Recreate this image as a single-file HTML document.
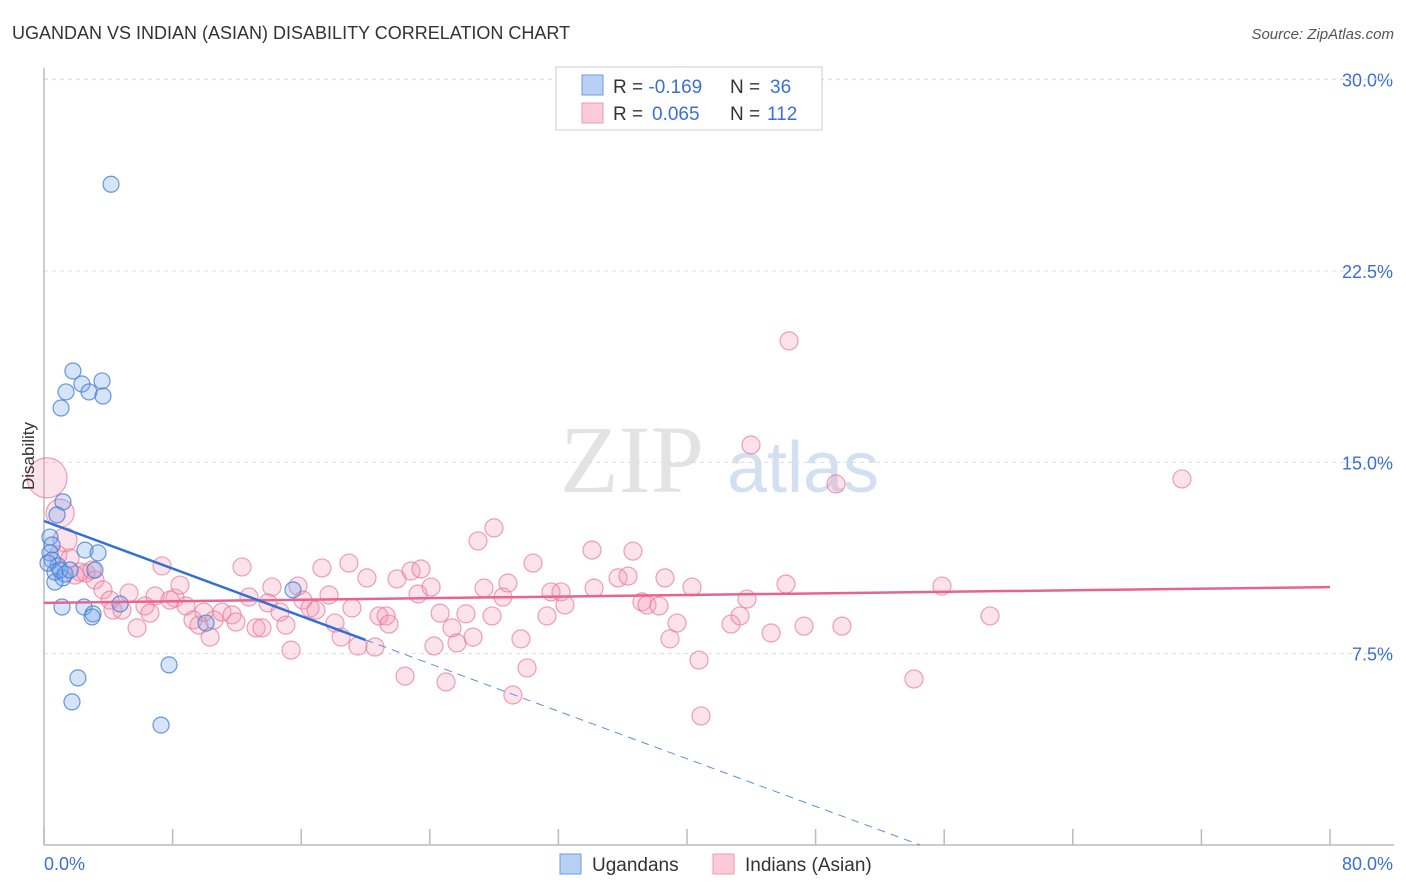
<!DOCTYPE html>
<html><head><meta charset="utf-8"><style>
body{margin:0;background:#fff;font-family:"Liberation Sans",sans-serif;}
svg{display:block}
</style></head><body>
<svg id="chart" width="1406" height="892">
<text x="12" y="39" font-size="18" fill="#333">UGANDAN VS INDIAN (ASIAN) DISABILITY CORRELATION CHART</text>
<text x="1394" y="39" font-size="15" fill="#555" font-style="italic" text-anchor="end">Source: ZipAtlas.com</text>
<g>
<text x="632" y="492" font-size="96" fill="#ddd" font-family="Liberation Serif,serif" text-anchor="middle" opacity="0.8">ZIP</text>
<text x="803" y="492" font-size="72" fill="#c9d9f0" text-anchor="middle" opacity="0.8">atlas</text>
</g>
<g id="grid"></g>
<g id="axes"></g>
<g id="pts"></g>
<g id="trends"></g>
<text transform="translate(34,456) rotate(-90)" font-size="17" fill="#333" text-anchor="middle">Disability</text>
<g>
<rect x="556" y="67" width="266" height="63" fill="#fff" stroke="#ccc"/>
<rect x="582" y="75" width="21" height="20" fill="#b9d0f5" stroke="#6b9be0"/>
<rect x="582" y="103" width="21" height="20" fill="#fbcbd9" stroke="#ee9ab5"/>
<text x="613" y="93" font-size="19" fill="#333">R = <tspan fill="#3b6fd6">-0.169</tspan><tspan x="730">N = </tspan><tspan x="770" fill="#3b6fd6">36</tspan></text>
<text x="613" y="120" font-size="19" fill="#333">R = <tspan x="652" fill="#3b6fd6">0.065</tspan><tspan x="730">N = </tspan><tspan x="767" fill="#3b6fd6">112</tspan></text>
</g>
<g>
<rect x="560" y="854" width="21" height="20" fill="#b9d0f5" stroke="#6b9be0"/>
<text x="592" y="871" font-size="19" fill="#333">Ugandans</text>
<rect x="713" y="854" width="21" height="20" fill="#fbcbd9" stroke="#ee9ab5"/>
<text x="745" y="871" font-size="19" fill="#333">Indians (Asian)</text>
</g>
</svg>
<script>
const yTicks=[7.5,15,22.5,30];
const yTickLabels=["7.5%","15.0%","22.5%","30.0%"];
const xTicks=[0,8,16,24,32,40,48,56,64,72,80];
const ugX=[4.17,1.80,2.36,3.61,1.37,2.80,3.67,1.06,1.18,0.81,0.37,0.50,0.37,0.50,0.87,1.18,0.68,2.55,3.36,3.17,1.12,2.49,3.05,2.99,4.73,15.49,7.78,2.11,1.74,7.28,0.68,0.25,1.0,1.31,1.62,10.08];
const ugY=[25.9,18.58,18.07,18.19,17.76,17.76,17.60,17.13,13.45,12.94,12.07,11.76,11.45,11.17,10.94,10.47,10.31,11.56,11.45,10.78,9.33,9.33,9.06,8.94,9.45,10.0,7.06,6.55,5.61,4.70,10.70,11.05,10.78,10.62,10.78,8.70];
const inX=[0.19,1.00,1.31,0.87,1.62,2.24,2.61,2.99,1.93,3.17,3.67,4.11,4.29,4.85,5.29,5.79,6.28,6.59,6.91,7.34,7.84,8.15,8.46,8.83,9.27,9.64,9.95,10.33,10.58,11.07,11.70,11.94,12.32,12.75,13.19,13.56,13.93,14.18,14.68,15.05,15.37,15.80,16.11,16.55,16.92,17.29,17.73,18.10,18.48,18.97,19.16,19.53,20.09,20.59,20.84,21.28,21.46,21.96,22.46,22.83,23.27,23.45,24.08,24.26,24.64,25.01,25.38,25.69,26.25,26.69,27.00,27.37,27.87,27.99,28.55,28.86,29.17,29.67,30.05,30.42,31.29,31.54,32.16,32.41,34.09,34.22,35.71,36.33,36.64,37.20,37.51,38.26,38.63,38.94,39.38,40.31,40.75,40.87,42.74,43.30,43.73,43.98,45.23,46.16,46.35,47.28,49.27,49.64,54.12,55.86,58.85,70.79];
const inY=[14.39,13.01,11.96,11.37,11.25,10.70,10.66,10.78,10.58,10.39,10.00,9.60,9.21,9.21,9.88,8.51,9.37,9.09,9.76,10.94,9.60,9.68,10.19,9.37,8.82,8.62,9.13,8.15,8.82,9.13,9.02,8.74,10.90,9.72,8.51,8.51,9.49,10.11,9.13,8.62,7.64,10.15,9.60,9.29,9.21,10.86,9.80,8.70,8.15,11.05,9.29,7.80,10.47,7.76,8.98,8.98,8.66,10.43,6.62,10.74,9.84,10.82,10.11,7.80,9.09,6.39,8.51,7.92,9.06,8.15,11.92,10.07,8.98,12.43,9.72,10.27,5.88,8.08,6.94,11.05,8.98,9.92,9.92,9.41,11.56,10.07,10.47,10.54,11.52,9.53,9.41,9.37,10.47,8.08,8.70,10.11,7.25,5.06,8.66,8.98,9.64,15.68,8.31,10.23,19.76,8.58,14.15,8.58,6.51,10.15,8.98,14.35];
const inR=[20,14,12];
const ugTrend=[12.70,-0.233];
const inTrend=[9.49,0.00775];
const NS="http://www.w3.org/2000/svg";
const X=v=>44+v*(1286/80);
const Y=v=>845-v*(191.33/7.5);
function mk(tag,attrs,parent){const e=document.createElementNS(NS,tag);for(const k in attrs)e.setAttribute(k,attrs[k]);document.getElementById(parent).appendChild(e);return e;}
yTicks.forEach((t,i)=>{
  const l=mk('line',{x1:44,x2:1394,y1:Y(t),y2:Y(t),stroke:'#ddd','stroke-dasharray':'4,4'},'grid');
  
  
  const tx=mk('text',{x:1393,y:Y(t)+7,'font-size':18,fill:'#3b6fd6','text-anchor':'end'},'grid');
  tx.textContent=yTickLabels[i];
  
  
});
const topGrid=mk('line',{x1:44,x2:1394,y1:79,y2:79,stroke:'#e4e4e4','stroke-dasharray':'4,4'},'grid');


const ya=mk('line',{x1:44,x2:44,y1:68,y2:845,stroke:'#bbb','stroke-width':1.5},'axes');


const xa=mk('line',{x1:44,x2:1394,y1:845,y2:845,stroke:'#bbb','stroke-width':1.5},'axes');


xTicks.forEach(t=>{
  const l=mk('line',{x1:X(t),x2:X(t),y1:829,y2:845,stroke:'#bbb','stroke-width':1.5},'axes');
  
  
});
const xl0=mk('text',{x:44,y:870,'font-size':18,fill:'#3b6fd6'},'axes');xl0.textContent='0.0%';


const xl1=mk('text',{x:1393,y:870,'font-size':18,fill:'#3b6fd6','text-anchor':'end'},'axes');xl1.textContent='80.0%';


inX.forEach((v,i)=>{
  const c=mk('circle',{cx:X(v),cy:Y(inY[i]),r:inR[i]||9,fill:'rgba(244,150,180,0.28)',stroke:'rgba(232,120,155,0.7)','stroke-width':1.2},'pts');
  
  
});
ugX.forEach((v,i)=>{
  const c=mk('circle',{cx:X(v),cy:Y(ugY[i]),r:8,fill:'rgba(120,165,235,0.3)',stroke:'rgba(70,125,215,0.8)','stroke-width':1.2},'pts');
  
  
});
const it=mk('line',{x1:X(0),y1:Y(inTrend[0]),x2:X(80),y2:Y(inTrend[0]+80*inTrend[1]),stroke:'#e8648f','stroke-width':2.5},'trends');


const ut=mk('line',{x1:X(0),y1:Y(ugTrend[0]),x2:X(20),y2:Y(ugTrend[0]+20*ugTrend[1]),stroke:'#2f6fd8','stroke-width':2.5},'trends');


const xe=-ugTrend[0]/ugTrend[1];
const ud=mk('line',{x1:X(20),y1:Y(ugTrend[0]+20*ugTrend[1]),x2:X(xe),y2:Y(0),stroke:'#5b8fe0','stroke-width':1,'stroke-dasharray':'8,6'},'trends');


</script>
</body></html>
